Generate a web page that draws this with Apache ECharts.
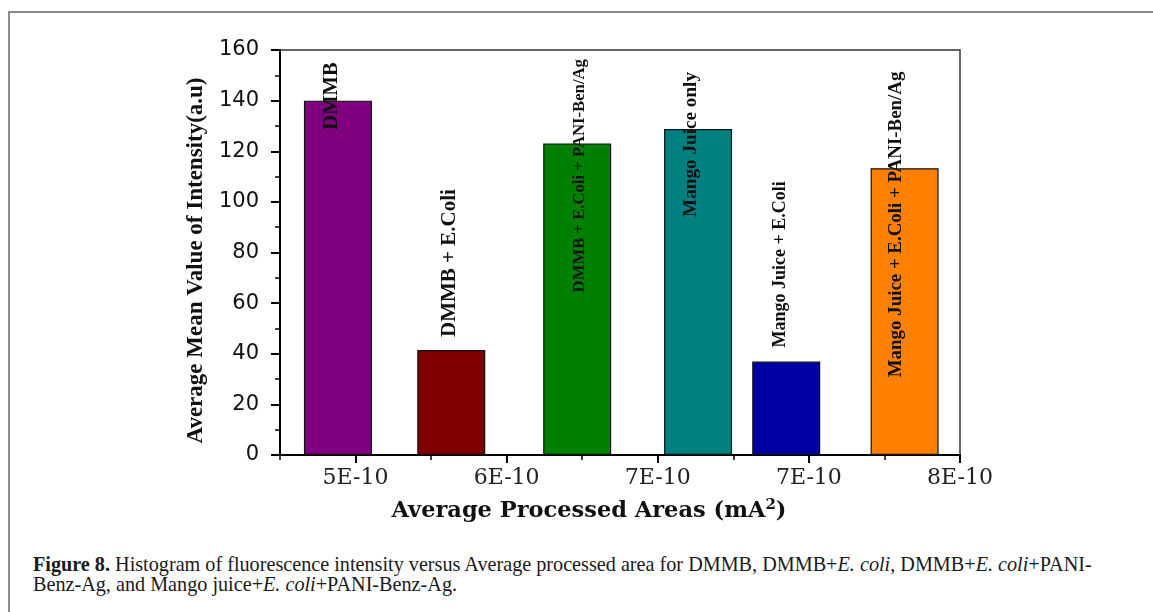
<!DOCTYPE html>
<html><head><meta charset="utf-8">
<script src="https://cdn.jsdelivr.net/npm/echarts@6/dist/echarts.min.js"></script>
<style>
html,body{margin:0;padding:0;background:#fff;overflow:hidden;}
#frame{position:absolute;left:8px;top:11px;width:1200px;height:700px;border-left:2px solid #8c8c8c;border-top:2px solid #8c8c8c;}
#chart{position:absolute;left:0;top:0;width:1153px;height:540px;}
#caption{position:absolute;left:33px;top:554px;font-family:'Liberation Serif',serif;font-size:20.2px;line-height:20px;white-space:nowrap;color:#1a1a1a;}
</style></head><body>
<div id="frame"></div>
<div id="chart"></div>
<div id="caption"><b>Figure 8.</b> Histogram of fluorescence intensity versus Average processed area for DMMB, DMMB+<i>E. coli</i>, DMMB+<i>E. coli</i>+PANI-<br>Benz-Ag, and Mango juice+<i>E. coli</i>+PANI-Benz-Ag.</div>
<script>
// ---- data ----
const categories = ['DMMB', 'DMMB + E.Coli', 'DMMB + E.Coli + PANI-Ben/Ag', 'Mango Juice only', 'Mango Juice + E.Coli', 'Mango Juice + E.Coli + PANI-Ben/Ag'];
const areaValues = [5.33, 5.78, 6.28, 6.76, 7.11, 7.58];          // average processed area (x 1E-10 mA^2)
const intensityValues = [140.0, 41.5, 123.1, 128.8, 36.9, 113.3];   // average mean intensity (a.u)
const xTickValues = [5.4, 6.0, 6.6, 7.2, 7.8];
const xTickLabels = ['5E-10', '6E-10', '7E-10', '7E-10', '8E-10'];
const xMinorTickValues = [5.1, 5.7, 6.3, 6.9, 7.5];
const yTickLabels = ['0', '20', '40', '60', '80', '100', '120', '140', '160'];

// ---- styles ----
const barColors = ['#800080', '#800000', '#008000', '#008080', '#0000a4', '#ff8000'];
const labelStyles = [
  { position: [28, 29], fontSize: 20.5 },
  { position: [32, -13], fontSize: 21 },
  { position: [36, 149], fontSize: 16.7 },
  { position: [27, 88], fontSize: 19.2 },
  { position: [28, -14], fontSize: 18 },
  { position: [26, 209], fontSize: 18.9 }
];

const chart = echarts.init(document.getElementById('chart'), null, { renderer: 'canvas' });

const seriesData = areaValues.map((x, i) => ({
  value: [x, intensityValues[i]],
  itemStyle: { color: barColors[i] },
  label: {
    show: true,
    formatter: categories[i],
    position: labelStyles[i].position,
    fontSize: labelStyles[i].fontSize
  }
}));

const option = {
  animation: false,
  backgroundColor: 'transparent',
  grid: { left: 280, right: 193, top: 50, bottom: 85, show: true, borderColor: '#333', borderWidth: 1.5, backgroundColor: 'transparent' },
  xAxis: [
    {
      type: 'value', min: 5.1, max: 7.8, position: 'bottom',
      name: 'Average Processed Areas (mA{sup|2})',
      nameLocation: 'middle', nameGap: 43,
      nameTextStyle: {
        fontFamily: 'DejaVu Serif', fontWeight: 'bold', fontSize: 22.5, color: '#111',
        padding: [0, 62, 0, 0],
        rich: { sup: { fontFamily: 'DejaVu Serif', fontWeight: 'bold', fontSize: 15, color: '#111', padding: [0, 0, 11, 0] } }
      },
      axisLine: { show: true, lineStyle: { color: '#000', width: 2 } },
      axisTick: { show: true, customValues: xTickValues, length: 8, lineStyle: { color: '#000', width: 2 } },
      axisLabel: {
        show: true, customValues: xTickValues, margin: 12,
        fontFamily: 'DejaVu Serif', fontSize: 22, color: '#222',
        formatter: function (v) {
          const idx = xTickValues.findIndex(t => Math.abs(t - v) < 1e-6);
          return idx >= 0 ? xTickLabels[idx] : '';
        }
      },
      splitLine: { show: false }
    },
    {
      type: 'value', min: 5.1, max: 7.8, position: 'bottom', offset: 0,
      axisLine: { show: false },
      axisTick: { show: true, customValues: xMinorTickValues, length: 5, lineStyle: { color: '#000', width: 1.5 } },
      axisLabel: { show: false },
      splitLine: { show: false }
    }
  ],
  yAxis: {
    type: 'value', min: 0, max: 160, interval: 20,
    name: 'Average Mean Value of Intensity(a.u)',
    nameLocation: 'middle', nameGap: 72, nameRotate: 90,
    nameTextStyle: { fontFamily: 'Liberation Serif', fontWeight: 'bold', fontSize: 23, color: '#111', padding: [0, 16, 0, 0] },
    axisLine: { show: true, lineStyle: { color: '#000', width: 2 } },
    axisTick: { show: true, length: 9, lineStyle: { color: '#000', width: 2 } },
    minorTick: { show: true, splitNumber: 2, length: 5, lineStyle: { color: '#000', width: 1.5 } },
    axisLabel: {
      margin: 21, fontFamily: 'DejaVu Sans', fontSize: 21, color: '#111',
      formatter: function (v) { return yTickLabels[Math.round(v / 20)]; }
    },
    splitLine: { show: false },
    minorSplitLine: { show: false }
  },
  series: [{
    type: 'bar',
    xAxisIndex: 0,
    barWidth: 68,
    data: seriesData,
    itemStyle: { borderColor: '#111', borderWidth: 1.2 },
    label: {
      show: true, rotate: 90, align: 'left', verticalAlign: 'middle',
      fontFamily: 'Liberation Serif', fontWeight: 'bold', color: '#111'
    }
  }]
};
chart.setOption(option);
</script>
</body></html>
